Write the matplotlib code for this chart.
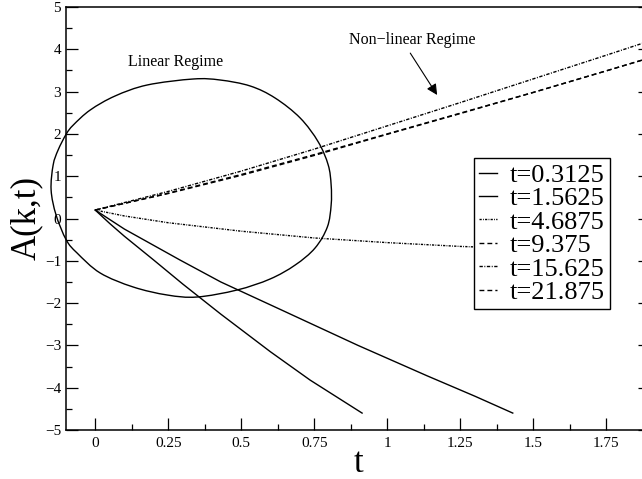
import matplotlib
matplotlib.use("Agg")
import matplotlib.pyplot as plt
from matplotlib.path import Path
from matplotlib.patches import PathPatch
from matplotlib.ticker import MultipleLocator

plt.rcParams['font.family'] = ['Liberation Serif', 'DejaVu Serif']

# ---- data -------------------------------------------------------------
labels = ["t=0.3125", "t=1.5625", "t=4.6875", "t=9.375", "t=15.625", "t=21.875"]

t1_x = [0, 0.05, 0.1, 0.2, 0.3, 0.43, 0.6, 0.736, 0.914]
t1_y = [0.2, -0.12, -0.42, -0.98, -1.55, -2.26, -3.15, -3.82, -4.6]

t2_x = [0, 0.1, 0.29, 0.43, 0.634, 0.9, 1.137, 1.3, 1.43]
t2_y = [0.2, -0.25, -0.98, -1.5, -2.15, -3.0, -3.72, -4.2, -4.6]

t3_x = [0, 0.1, 0.25, 0.5, 0.75, 1.0, 1.25, 1.5]
t3_y = [0.2, 0.06, -0.1, -0.3, -0.46, -0.57, -0.66, -0.72]

t4_x = [0, 0.25, 0.5, 0.75, 1.0, 1.25, 1.5, 1.75, 1.9]
t4_y = [0.2, 0.59, 1.02, 1.49, 1.99, 2.48, 2.98, 3.49, 3.8]

t5_x = [0, 0.25, 0.5, 0.75, 1.0, 1.25, 1.5, 1.75, 1.9]
t5_y = [0.2, 0.64, 1.12, 1.64, 2.19, 2.74, 3.3, 3.86, 4.2]

t6_x = [0, 0.25, 0.5, 0.75, 1.0, 1.25, 1.5, 1.75, 1.9]
t6_y = [0.2, 0.6, 1.04, 1.51, 2.0, 2.49, 2.98, 3.49, 3.8]

# hand-drawn loop marking the linear regime (closed outline)
loop_x = [0.336, 0.428, 0.531, 0.616, 0.702, 0.764, 0.798, 0.808, 0.808, 0.795,
          0.753, 0.685, 0.599, 0.486, 0.349, 0.247, 0.130, 0.017, -0.062, -0.099,
          -0.134, -0.151, -0.144, -0.127, -0.099, -0.075, -0.017, 0.068, 0.178]
loop_y = [3.298, 3.274, 3.132, 2.849, 2.376, 1.809, 1.265, 0.792, 0.319, -0.201,
          -0.697, -1.099, -1.430, -1.690, -1.856, -1.809, -1.619, -1.288, -0.816, -0.508,
          0.083, 0.674, 1.265, 1.619, 1.998, 2.210, 2.565, 2.896, 3.156]


def smooth_closed_path(xs, ys):
    """Closed Catmull-Rom outline through the given points, as cubic Bezier segments."""
    n = len(xs)
    verts = [(xs[0], ys[0])]
    codes = [Path.MOVETO]
    for i in range(n):
        p0 = (xs[i - 1], ys[i - 1])
        p1 = (xs[i], ys[i])
        p2 = (xs[(i + 1) % n], ys[(i + 1) % n])
        p3 = (xs[(i + 2) % n], ys[(i + 2) % n])
        c1 = (p1[0] + (p2[0] - p0[0]) / 6, p1[1] + (p2[1] - p0[1]) / 6)
        c2 = (p2[0] - (p3[0] - p1[0]) / 6, p2[1] - (p3[1] - p1[1]) / 6)
        verts += [c1, c2, p2]
        codes += [Path.CURVE4] * 3
    return Path(verts, codes)


# ---- figure -----------------------------------------------------------
fig = plt.figure(figsize=(6.42, 4.79), dpi=100)
ax = fig.add_axes([66 / 642, 49 / 479, 584 / 642, 423 / 479])

lw = 1.0
ax.plot(t1_x, t1_y, color='black', lw=lw, ls='-', label=labels[0])
ax.plot(t2_x, t2_y, color='black', lw=lw, ls='-', label=labels[1])
ax.plot(t3_x, t3_y, color='black', lw=lw, ls=(0, (1.6, 0.9, 0.6, 0.9)), label=labels[2], zorder=1)
ax.plot(t4_x, t4_y, color='black', lw=lw, ls=(0, (3.5, 2.2)), label=labels[3])
ax.plot(t5_x, t5_y, color='black', lw=lw, ls=(0, (2.4, 1.1, 0.7, 1.1)), label=labels[4])
ax.plot(t6_x, t6_y, color='black', lw=lw, ls=(0, (3.5, 2.2)), label=labels[5])

loop = PathPatch(smooth_closed_path(loop_x, loop_y), facecolor='none',
                 edgecolor='black', lw=1.0, clip_on=False)
ax.add_patch(loop)

ax.text(0.274, 3.70, "Linear Regime", fontsize=11.5, ha='center', va='center')
ax.text(1.086, 4.22, "Non\u2212linear Regime", fontsize=11.5, ha='center', va='center')
ax.annotate("", xy=(1.171, 2.92), xytext=(1.079, 3.91),
            arrowprops=dict(arrowstyle='-|>', color='black', lw=0.8,
                            mutation_scale=16, shrinkA=0, shrinkB=0))

ax.set_xlim(-0.1, 1.9)
ax.set_ylim(-5, 5)

ax.xaxis.set_minor_locator(MultipleLocator(0.125))
ax.yaxis.set_minor_locator(MultipleLocator(0.5))
ax.set_xticks([0, 0.25, 0.5, 0.75, 1, 1.25, 1.5, 1.75])
ax.set_xticklabels(["0", "0.25", "0.5", "0.75", "1", "1.25", "1.5", "1.75"])
ax.set_yticks(range(-5, 6))
ax.set_yticklabels([("\u2212%d" % -v) if v < 0 else str(v) for v in range(-5, 6)])

ax.tick_params(axis='x', which='both', direction='in', top=False, bottom=True,
               labelsize=11, pad=5)
ax.tick_params(axis='y', which='both', direction='in', left=True, right=True,
               labelsize=11, pad=3.5)
ax.tick_params(which='major', length=8.6, width=0.9)
ax.tick_params(which='minor', length=4.3, width=0.9)

for s in ax.spines.values():
    s.set_linewidth(1.1)

ax.set_xlabel("t", fontsize=25, va='center')
ax.xaxis.set_label_coords(0.5, -0.080)
ax.set_ylabel("A(k,t)", fontsize=25, va='center')
ax.yaxis.set_label_coords(-0.067, 0.5)

leg = ax.legend(loc='upper left', bbox_to_anchor=(0.699, 0.643), borderaxespad=0,
                fontsize=19, frameon=True, fancybox=False, shadow=False,
                labelspacing=0.0, handlelength=0.65, handletextpad=0.5,
                borderpad=0.2, framealpha=1)
leg.get_frame().set_edgecolor('black')
leg.get_frame().set_linewidth(1.0)

fig.savefig("out.png", dpi=100)
